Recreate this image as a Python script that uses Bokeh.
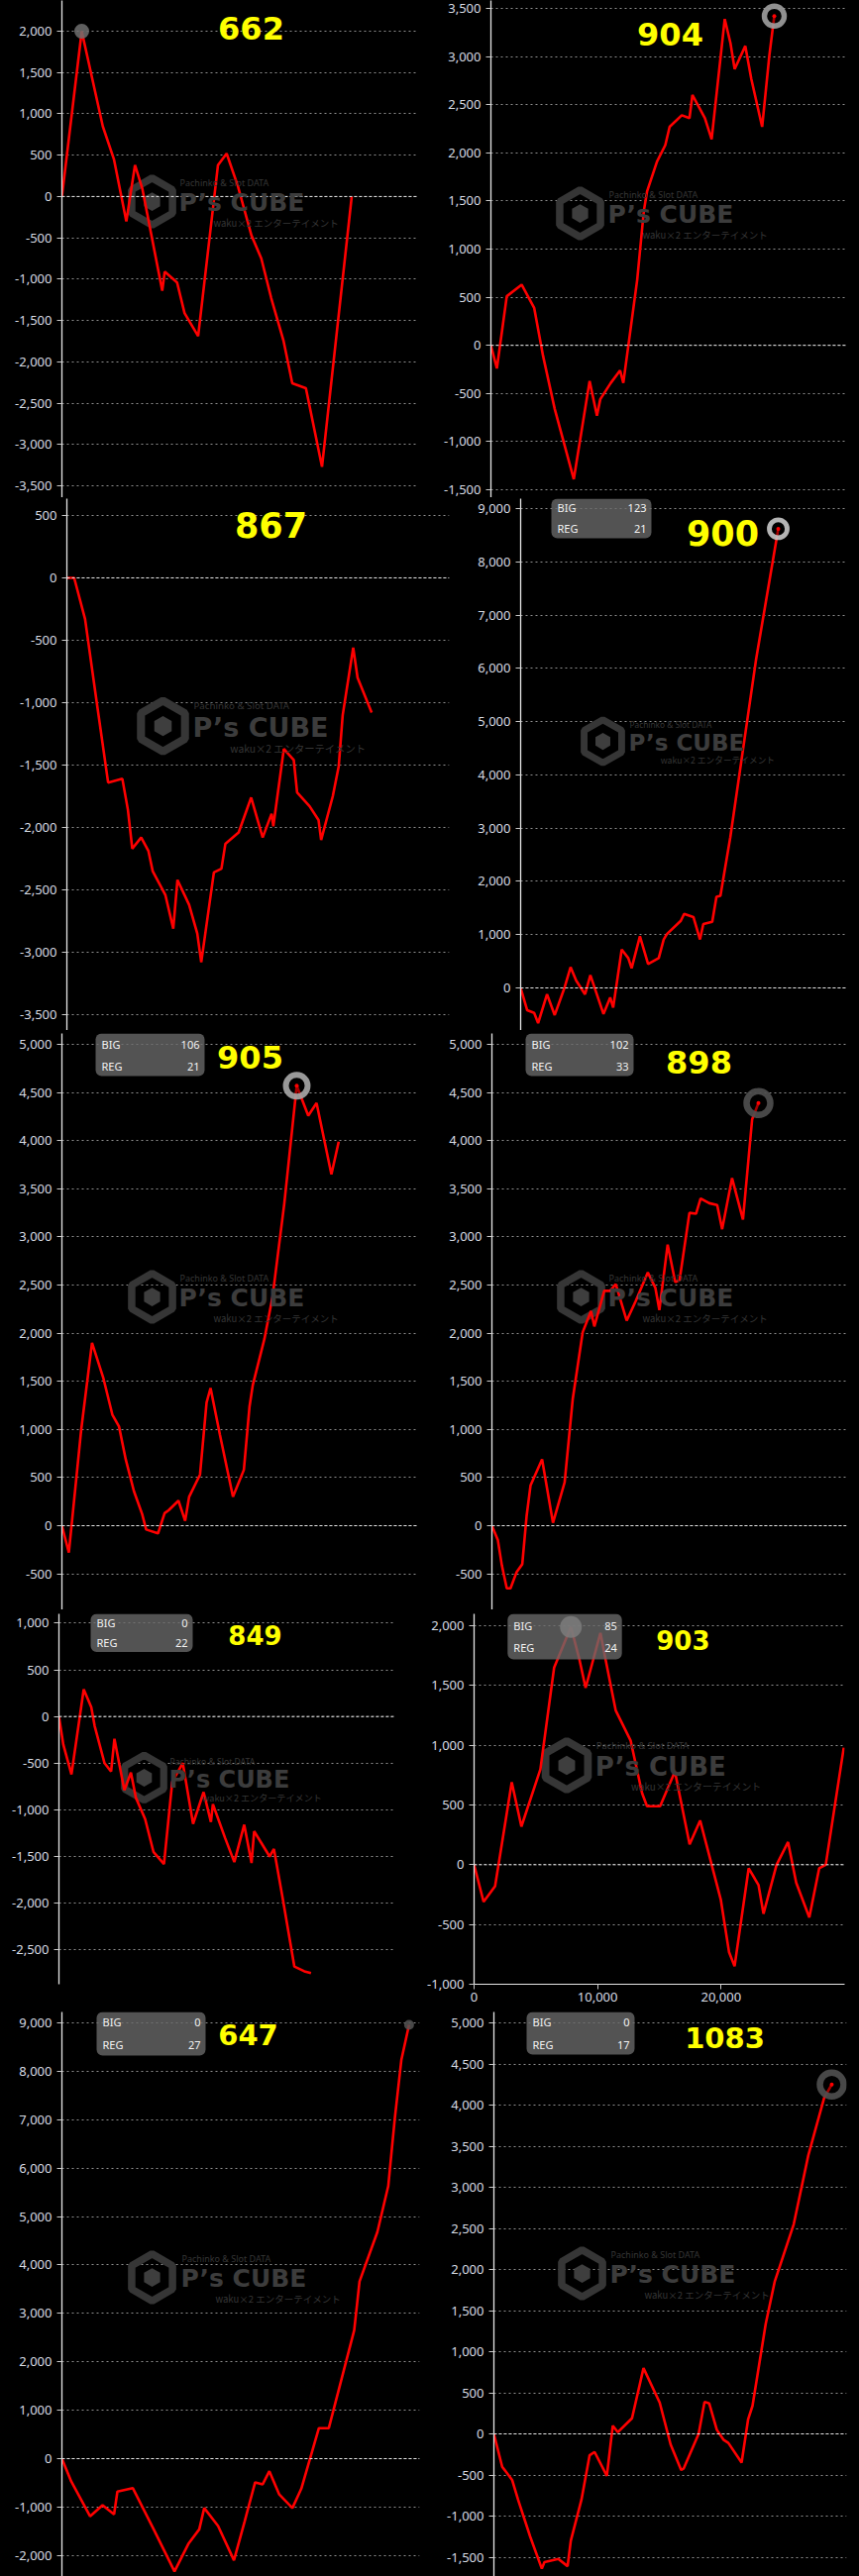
import numpy as np
from bokeh.plotting import figure
from bokeh.models import (Range1d, FixedTicker, NumeralTickFormatter, Label,
                          BoxAnnotation, Span, GlobalInlineStyleSheet)
from bokeh.layouts import row, column
from bokeh.embed import file_html
from bokeh.resources import INLINE

# ---------------- data ----------------
titles = ["662", "904", "867", "900", "905", "898", "849", "903", "647", "1083"]
big_counts = [None, None, None, 123, 106, 102, 0, 85, 0, 0]
reg_counts = [None, None, None, 21, 21, 33, 22, 24, 27, 17]

games_662 = [0, 1600, 3300, 4200, 5200, 5900, 6500, 8100, 8300, 9300, 9900, 11000, 12600, 13300, 14200,
             15300, 16100, 16900, 17900, 18600, 19700, 21000, 23400]
diff_662 = [0, 2000, 850, 450, -300, 380, 90, -1140, -910, -1040, -1410, -1690, 380, 520, 130,
            -470, -750, -1230, -1750, -2260, -2320, -3270, 0]

games_904 = [0, 480, 1280, 2480, 3490, 4210, 5150, 6690, 7970, 8560, 8830, 9680, 10430, 10690, 11810,
             12350, 12610, 13410, 14080, 14430, 15410, 16030, 16270, 17280, 17820, 18880, 19340, 19680,
             20540, 21020, 21900, 22480, 22880]
diff_904 = [0, -240, 510, 630, 390, -110, -660, -1390, -370, -730, -560, -390, -260, -390, 680,
            1400, 1600, 1910, 2080, 2270, 2390, 2360, 2600, 2360, 2140, 3390, 3140, 2870,
            3110, 2770, 2270, 3010, 3420]

games_867 = [0, 590, 1470, 2400, 3330, 4480, 4930, 5280, 6000, 6590, 6930, 7950, 8590, 8930, 9870,
             10530, 10850, 11870, 12480, 12800, 13870, 14880, 15810, 16530, 16670, 17520, 18320,
             18590, 19600, 20320, 20530, 21470, 21950, 22270, 23120, 23470, 24610]
diff_867 = [0, 0, -330, -990, -1640, -1610, -1860, -2170, -2080, -2190, -2350, -2540, -2810, -2420,
            -2620, -2850, -3080, -2360, -2330, -2130, -2040, -1760, -2080, -1890, -1990, -1370, -1460,
            -1720, -1830, -1940, -2100, -1750, -1510, -1100, -560, -800, -1080]

games_900 = [0, 530, 1090, 1410, 2130, 2750, 3550, 4030, 4480, 5200, 5630, 6690, 7230, 7470, 8160,
             8690, 8960, 9630, 10290, 11150, 11550, 11810, 12930, 13200, 13950, 14480, 14750, 15470,
             15810, 16130, 16930, 19010, 20800]
diff_900 = [0, -420, -470, -660, -120, -510, 10, 390, 140, -120, 240, -490, -180, -370, 720,
            560, 370, 970, 450, 560, 910, 1010, 1260, 1390, 1330, 910, 1200, 1240,
            1710, 1730, 2830, 6170, 8620]

games_905 = [0, 560, 1550, 2430, 3330, 4080, 4610, 5150, 5810, 6480, 6800, 7760, 8290, 8610, 9410,
             9950, 10270, 11150, 11680, 12000, 12750, 13810, 14690, 15150, 15410, 16350, 17010,
             17950, 18960, 19890, 20560, 21760, 22350]
diff_905 = [0, -280, 990, 1900, 1540, 1150, 1030, 690, 360, 120, -40, -80, 130, 160, 260,
            50, 300, 530, 1280, 1430, 950, 300, 580, 1240, 1460, 1940, 2380,
            3340, 4570, 4260, 4390, 3650, 3990]

games_898 = [0, 480, 800, 1200, 1500, 2000, 2450, 2800, 3120, 4050, 4930, 5870, 6530, 7330, 8000,
             8270, 9070, 9550, 10000, 10880, 11600, 12590, 13200, 13520, 14190, 14800, 15150, 15950,
             16480, 16850, 17550, 18190, 18590, 19390, 20270, 21010, 21520]
diff_898 = [0, -150, -410, -650, -650, -480, -400, 100, 420, 690, 30, 450, 1320, 2010, 2230,
            2070, 2440, 2440, 2510, 2130, 2330, 2630, 2470, 2240, 2920, 2530, 2550, 3250,
            3240, 3400, 3350, 3330, 3080, 3610, 3180, 4220, 4390]

games_849 = [0, 350, 1010, 2000, 2610, 2880, 3680, 4210, 4480, 5280, 5810, 6210, 6960, 7630, 8480,
             9150, 10000, 10830, 11680, 12270, 12430, 13410, 14160, 14960, 15550, 15760, 17010,
             17360, 18080, 19010, 19810, 20350]
diff_849 = [0, -300, -620, 290, 100, -100, -500, -590, -240, -790, -600, -870, -1100, -1450, -1580,
            -700, -500, -1150, -810, -1130, -940, -1300, -1560, -1160, -1570, -1230, -1500,
            -1420, -1960, -2680, -2730, -2750]

games_903 = [0, 770, 1700, 3050, 3830, 5370, 6480, 7840, 8500, 9030, 10230, 10620, 11470, 12670,
             13600, 14000, 15060, 16260, 17450, 18300, 19970, 20640, 21090, 22230, 23030, 23430,
             24490, 25420, 26080, 27140, 27940, 28470, 29930]
diff_903 = [0, -310, -180, 690, 320, 800, 1650, 1990, 1730, 1480, 1940, 1730, 1290, 1040,
            600, 490, 490, 780, 170, 370, -290, -730, -850, -30, -170, -410,
            0, 190, -150, -440, -30, 0, 980]

games_647 = [0, 750, 2270, 3280, 4210, 4480, 5730, 7410, 9090, 10210, 11090, 11490, 12610, 13890,
             14750, 15600, 16210, 16750, 17550, 18610, 19330, 20750, 21550, 23600, 24030, 25470,
             26350, 26880, 27410, 28030]
diff_647 = [0, -470, -1190, -960, -1150, -680, -610, -1460, -2330, -1760, -1460, -1020, -1390, -2100,
            -1300, -490, -530, -260, -740, -1020, -620, 630, 630, 2650, 3660, 4680,
            5630, 7030, 8240, 8960]

games_1083 = [0, 670, 1470, 1950, 2930, 3870, 4080, 5200, 5950, 6210, 7070, 7730, 8130, 9120, 9600,
              10000, 11150, 12080, 13390, 14270, 15120, 15330, 16530, 17010, 17390, 18000, 18530,
              18930, 20000, 20530, 20880, 21950, 22670, 24210, 25390, 26670, 27280]
diff_1083 = [0, -400, -560, -800, -1250, -1640, -1560, -1520, -1610, -1300, -800, -260, -220, -510, 100,
             20, 190, 800, 380, -130, -440, -420, 0, 390, 370, 50, -70,
             -110, -350, 180, 340, 1340, 1850, 2550, 3390, 4090, 4250]

yticks_662 = [-3500, -3000, -2500, -2000, -1500, -1000, -500, 0, 500, 1000, 1500, 2000]
yticks_904 = [-1500, -1000, -500, 0, 500, 1000, 1500, 2000, 2500, 3000, 3500]
yticks_867 = [-3500, -3000, -2500, -2000, -1500, -1000, -500, 0, 500]
yticks_900 = [0, 1000, 2000, 3000, 4000, 5000, 6000, 7000, 8000, 9000]
yticks_905 = [-500, 0, 500, 1000, 1500, 2000, 2500, 3000, 3500, 4000, 4500, 5000]
yticks_898 = [-500, 0, 500, 1000, 1500, 2000, 2500, 3000, 3500, 4000, 4500, 5000]
yticks_849 = [-2500, -2000, -1500, -1000, -500, 0, 500, 1000]
yticks_903 = [-1000, -500, 0, 500, 1000, 1500, 2000]
xticks_903 = [0, 10000, 20000]
yticks_647 = [-2000, -1000, 0, 1000, 2000, 3000, 4000, 5000, 6000, 7000, 8000, 9000]
yticks_1083 = [-1500, -1000, -500, 0, 500, 1000, 1500, 2000, 2500, 3000, 3500, 4000, 4500, 5000]

series = [(games_662, diff_662, yticks_662), (games_904, diff_904, yticks_904),
          (games_867, diff_867, yticks_867), (games_900, diff_900, yticks_900),
          (games_905, diff_905, yticks_905), (games_898, diff_898, yticks_898),
          (games_849, diff_849, yticks_849), (games_903, diff_903, yticks_903),
          (games_647, diff_647, yticks_647), (games_1083, diff_1083, yticks_1083)]

# ---------------- layout (page pixels) ----------------
specs = [
    dict(fig=(0, 0, 433, 502), frame=(62, 0, 421, 502), cal=((2000, 31), (-3500, 490)),
         title=(253, 28, 32), box=None, wm=(153, 203, 180, 204, 25), mk=("fill", "#707070", 15)),
    dict(fig=(433, 0, 867, 502), frame=(495, 0, 854, 502), cal=((3500, 8), (-1500, 494)),
         title=(676, 34, 32), box=None, wm=(585, 215, 613, 216, 25), mk=("ring", "#a0a0a0", 20)),
    dict(fig=(0, 502, 455, 1040), frame=(67, 502, 453, 1040), cal=((500, 519), (-3500, 1024)),
         title=(273, 529, 35), box=None, wm=(164, 732, 194, 733, 27), mk=None),
    dict(fig=(455, 502, 867, 1040), frame=(525, 503, 855, 1040), cal=((9000, 513), (0, 997)),
         title=(729, 537, 35), box=(556, 503, 657, 543, 512, 533), wm=(608, 748, 634, 749, 23),
         mk=("ring", "#c8c8c8", 18)),
    dict(fig=(0, 1040, 433, 1625), frame=(62, 1043, 421, 1625), cal=((5000, 1054), (0, 1540)),
         title=(252, 1067, 32), box=(96, 1043, 206, 1086, 1054, 1076), wm=(153, 1309, 180, 1310, 25),
         mk=("ring", "#a8a8a8", 22)),
    dict(fig=(433, 1040, 867, 1625), frame=(496, 1043, 854, 1625), cal=((5000, 1054), (0, 1540)),
         title=(705, 1072, 32), box=(530, 1043, 639, 1086, 1054, 1076), wm=(586, 1309, 613, 1310, 25),
         mk=("ring", "#505050", 24)),
    dict(fig=(0, 1625, 428, 2030), frame=(59, 1629, 398, 2027), cal=((1000, 1639), (-2500, 1990)),
         title=(257, 1652, 26), box=(91, 1629, 194, 1670, 1639, 1660), wm=(145, 1805, 170, 1807, 24),
         mk=None),
    dict(fig=(428, 1625, 867, 2030), frame=(476, 1629, 852, 2003), cal=((2000, 1641), (-1000, 2003)),
         xmax=30000, title=(688, 1655, 26), box=(510, 1629, 626, 1675, 1641, 1663),
         wm=(570, 1782, 599, 1783, 26), mk=("fill", "#bdbdbd", 22)),
    dict(fig=(0, 2030, 433, 2601), frame=(62, 2031, 423, 2601), cal=((9000, 2042), (0, 2482)),
         title=(250, 2054, 29), box=(97, 2031, 207, 2075, 2041, 2064), wm=(153, 2299, 182, 2300, 25),
         mk=("fill", "#555555", 10)),
    dict(fig=(433, 2030, 867, 2601), frame=(498, 2031, 854, 2601), cal=((5000, 2042), (0, 2457)),
         title=(731, 2057, 29), box=(531, 2031, 640, 2074, 2041, 2064), wm=(587, 2295, 615, 2296, 25),
         mk=("ring", "#505050", 24)),
]

LABEL_FONT = "Noto Sans"


def build(i):
    spec = specs[i]
    games, diffs, yticks = series[i]
    x0, y0, x1, y1 = spec["fig"]
    fx0, fy0, fx1, fy1 = spec["frame"]
    (va, pa), (vb, pb) = spec["cal"]
    k = (va - vb) / (pb - pa)
    ytop = va + (pa - fy0) * k
    ybot = va - (fy1 - pa) * k
    xmax = spec.get("xmax", (fx1 - fx0) * 80)

    p = figure(width=x1 - x0, height=y1 - y0, x_range=Range1d(0, xmax), y_range=Range1d(ybot, ytop),
               output_backend="svg", toolbar_location=None,
               min_border_left=fx0 - x0, min_border_right=x1 - fx1,
               min_border_top=fy0 - y0, min_border_bottom=y1 - fy1,
               background_fill_color="black", border_fill_color="black", outline_line_color=None)

    def X(px):
        return (px - fx0) / (fx1 - fx0) * xmax

    def Y(py):
        return ytop - (py - fy0) * k

    ax = p.yaxis[0]
    ax.ticker = FixedTicker(ticks=yticks)
    ax.formatter = NumeralTickFormatter(format="0,0")
    ax.axis_line_color = "#e6e6e6"
    ax.axis_line_width = 1.3
    ax.major_tick_line_color = "#c8c8c8"
    ax.major_tick_out = 5
    ax.major_tick_in = 0
    ax.minor_tick_line_color = None
    ax.major_label_text_color = "#d8dce4"
    ax.major_label_text_font = LABEL_FONT
    ax.major_label_text_font_size = "13px"
    ax.major_label_standoff = 5
    p.ygrid.grid_line_color = "#8e8e8e"
    p.ygrid.grid_line_dash = "2 3"
    p.ygrid.grid_line_width = 1
    p.xgrid.visible = False

    if titles[i] == "903":
        xa = p.xaxis[0]
        xa.ticker = FixedTicker(ticks=xticks_903)
        xa.formatter = NumeralTickFormatter(format="0,0")
        xa.axis_line_color = "#e6e6e6"
        xa.major_tick_line_color = "#c8c8c8"
        xa.major_tick_out = 5
        xa.major_tick_in = 0
        xa.minor_tick_line_color = None
        xa.major_label_text_color = "#d8dce4"
        xa.major_label_text_font = LABEL_FONT
        xa.major_label_text_font_size = "13px"
        xa.major_label_standoff = 3
    else:
        p.xaxis.visible = False

    p.add_layout(Span(location=0, dimension="width", line_color="#e4e4e4",
                      line_dash="3 2", line_width=1))

    # watermark
    hx, hy, tx, ty, fs = spec["wm"]
    p.scatter([X(hx)], [Y(hy)], marker="hex", angle=np.pi / 6, size=fs * 1.9,
              fill_color=None, line_color="#363636", line_width=fs * 0.3)
    p.scatter([X(hx)], [Y(hy)], marker="hex", angle=np.pi / 6, size=fs * 0.75,
              fill_color="#3e3e3e", line_color=None)
    p.add_layout(Label(x=X(tx), y=Y(ty), text="P’s CUBE", text_align="left", text_baseline="middle",
                       text_color="#3c3c3c", text_font="DejaVu Sans", text_font_style="bold",
                       text_font_size=f"{fs}px"))
    p.add_layout(Label(x=X(tx + 1), y=Y(ty - fs * 0.8), text="Pachinko & Slot DATA", text_align="left",
                       text_baseline="middle", text_color="#363636", text_font="Noto Sans",
                       text_font_size=f"{fs * 0.36:.1f}px"))
    p.add_layout(Label(x=X(tx + fs * 1.4), y=Y(ty + fs * 0.8), text="waku×2 エンターテイメント",
                       text_align="left", text_baseline="middle", text_color="#363636",
                       text_font="Noto Sans CJK JP", text_font_size=f"{fs * 0.38:.1f}px"))

    # data line
    p.line(games, diffs, line_color="#ff0000", line_width=2.6)

    # max marker
    if spec["mk"] is not None:
        kind, col, sz = spec["mk"]
        j = int(np.argmax(diffs))
        if kind == "ring":
            p.scatter([games[j]], [diffs[j]], size=sz, fill_color="#000000", fill_alpha=0.35,
                      line_color=col, line_width=sz * 0.27, line_alpha=0.9)
            p.scatter([games[j]], [diffs[j]], size=4, fill_color="#ff0000", line_color=None)
        else:
            p.scatter([games[j]], [diffs[j]], size=sz, fill_color=col, fill_alpha=0.85, line_color=None)

    # BIG / REG box
    if spec["box"] is not None:
        bx0, by0, bx1, by1, bigy, regy = spec["box"]
        p.add_layout(BoxAnnotation(left=X(bx0), right=X(bx1), top=Y(by0), bottom=Y(by1),
                                   fill_color="#6a6a6a", fill_alpha=0.78, line_color=None,
                                   border_radius=6))
        for txt, val, yy in (("BIG", big_counts[i], bigy), ("REG", reg_counts[i], regy)):
            p.add_layout(Label(x=X(bx0 + 6), y=Y(yy), text=txt, text_align="left", text_baseline="middle",
                               text_color="#f2f2f2", text_font=LABEL_FONT, text_font_size="11px"))
            p.add_layout(Label(x=X(bx1 - 5), y=Y(yy), text=str(val), text_align="right",
                               text_baseline="middle", text_color="#f2f2f2", text_font=LABEL_FONT,
                               text_font_size="11px"))

    # title number
    cx, cy, tfs = spec["title"]
    p.add_layout(Label(x=X(cx), y=Y(cy), text=titles[i], text_align="center", text_baseline="middle",
                       text_color="#ffff00", text_font="DejaVu Sans", text_font_style="bold",
                       text_font_size=f"{tfs}px"))
    return p


figs = [build(i) for i in range(10)]
layout = column(row(figs[0], figs[1]), row(figs[2], figs[3]), row(figs[4], figs[5]),
                row(figs[6], figs[7]), row(figs[8], figs[9]),
                stylesheets=[GlobalInlineStyleSheet(
                    css="html, body { margin: 0 !important; padding: 0; background: #000; overflow: hidden; }")])

open("out.html", "w").write(file_html(layout, INLINE))
